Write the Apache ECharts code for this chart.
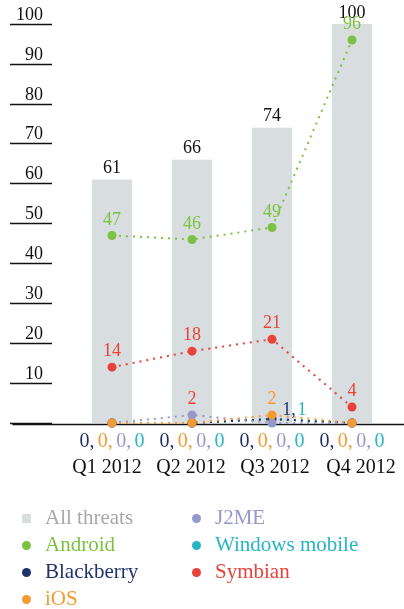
<!DOCTYPE html>
<html>
<head>
    <meta charset="utf-8">
    <title>ECharts</title>
    <script type="text/javascript" src="https://cdn.jsdelivr.net/npm/echarts@6/dist/echarts.min.js"></script>
    <style>
        body { margin: 0; background: #fff; }
    </style>
</head>
<body>
    <div id="main" style="width: 404px;height:609px;"></div>

    <script type="text/javascript">
        // data
        var quarters = ['Q1 2012', 'Q2 2012', 'Q3 2012', 'Q4 2012'];
        var allThreats = [61, 66, 74, 100];
        var android = [47, 46, 49, 96];
        var blackberry = [0, 0, 1, 0];
        var ios = [0, 0, 2, 0];
        var j2me = [0, 2, 0, 0];
        var windowsMobile = [0, 0, 1, 0];
        var symbian = [14, 18, 21, 4];
        // the row of zeros printed under every quarter: Blackberry, iOS, J2ME, Windows mobile
        var zeroRow = [[0, 0, 0, 0], [0, 0, 0, 0], [0, 0, 0, 0], [0, 0, 0, 0]];

        var font = 'Liberation Serif';
        var colors = {
            bar: '#d8dde0',
            all: '#a8a8a8',
            android: '#7cc242',
            blackberry: '#1f336a',
            ios: '#f39a33',
            j2me: '#9599c9',
            windows: '#27b5c3',
            symbian: '#e8423a'
        };

        var gridTop = 24, gridBottom = 186, gridLeft = 72, gridRight = 12;
        // the quarter names sit a little wider apart than the bars
        var quarterShift = [-5, -1, 3, 9];

        var myChart = echarts.init(document.getElementById('main'));

        function lineSeries(name, data, color, label) {
            return {
                name: name,
                type: 'line',
                data: data,
                symbol: 'circle',
                symbolSize: 9,
                itemStyle: { color: color },
                lineStyle: { color: color, width: 2, type: [2, 5] },
                label: Object.assign({
                    show: true,
                    position: 'top',
                    distance: 2,
                    fontFamily: font,
                    fontSize: 18,
                    color: color,
                    formatter: function (p) { return p.value === 0 ? '' : p.value; }
                }, label || {}),
                z: 3
            };
        }

        var richLabel = {
            b: { color: colors.blackberry, fontFamily: font, fontSize: 20 },
            i: { color: colors.ios, fontFamily: font, fontSize: 20 },
            j: { color: colors.j2me, fontFamily: font, fontSize: 20 },
            w: { color: colors.windows, fontFamily: font, fontSize: 20 }
        };
        quarterShift.forEach(function (s, k) {
            richLabel['q' + k] = {
                color: '#111', fontFamily: font, fontSize: 20,
                padding: [8, s < 0 ? -2 * s : 0, 0, s > 0 ? 2 * s : 0]
            };
        });

        var legendText = { fontFamily: font, fontSize: 21, lineHeight: 20, padding: [0, 0, 0, 9] };

        myChart.setOption({
            animation: false,
            grid: { top: gridTop, bottom: gridBottom, left: gridLeft, right: gridRight },
            xAxis: {
                type: 'category',
                data: quarters,
                axisLine: { show: false },
                axisTick: { show: false },
                axisLabel: {
                    interval: 0,
                    hideOverlap: false,
                    margin: 8,
                    lineHeight: 22,
                    rich: richLabel,
                    formatter: function (v, i) {
                        var z = zeroRow[i];
                        return '{b|' + z[0] + ',} {i|' + z[1] + ',} {j|' + z[2] + ',} {w|' + z[3] + '}\n{q' + i + '|' + v + '}';
                    }
                }
            },
            yAxis: {
                type: 'value',
                min: 0,
                max: 100,
                interval: 10,
                offset: 20,
                splitLine: { show: false },
                axisLine: { show: false },
                axisTick: { show: true, length: 42, lineStyle: { color: '#111', width: 1.3 } },
                axisLabel: {
                    margin: 9,
                    verticalAlign: 'bottom',
                    fontFamily: font,
                    fontSize: 18,
                    color: '#111',
                    formatter: function (v) { return v === 0 ? '' : v; }
                }
            },
            legend: [{
                orient: 'vertical',
                left: 22,
                top: 508,
                height: 140,
                padding: 0,
                itemWidth: 9,
                itemHeight: 9,
                itemGap: 6,
                textStyle: legendText,
                data: [
                    { name: 'All threats', icon: 'rect', textStyle: { color: colors.all } },
                    { name: 'Android', icon: 'circle', textStyle: { color: colors.android } },
                    { name: 'Blackberry', icon: 'circle', textStyle: { color: colors.blackberry } },
                    { name: 'iOS', icon: 'circle', textStyle: { color: colors.ios } }
                ]
            }, {
                orient: 'vertical',
                left: 192,
                top: 508,
                height: 140,
                padding: 0,
                itemWidth: 9,
                itemHeight: 9,
                itemGap: 6,
                textStyle: legendText,
                data: [
                    { name: 'J2ME', icon: 'circle', textStyle: { color: colors.j2me } },
                    { name: 'Windows mobile', icon: 'circle', textStyle: { color: colors.windows } },
                    { name: 'Symbian', icon: 'circle', textStyle: { color: colors.symbian } }
                ]
            }],
            graphic: [{
                type: 'line',
                left: 10,
                top: 609 - gridBottom - 1,
                shape: { x1: 0, y1: 0, x2: 394, y2: 0 },
                style: { stroke: '#111', lineWidth: 1.5 },
                z: 2
            }],
            series: [
                {
                    name: 'All threats',
                    type: 'bar',
                    data: allThreats,
                    barWidth: 40,
                    itemStyle: { color: colors.bar },
                    label: {
                        show: true,
                        position: 'top',
                        distance: 2,
                        fontFamily: font,
                        fontSize: 18,
                        color: '#111'
                    },
                    z: 1
                },
                lineSeries('Android', android, colors.android),
                lineSeries('Symbian', symbian, colors.symbian),
                lineSeries('Windows mobile', windowsMobile, colors.windows, { offset: [30, 7] }),
                lineSeries('Blackberry', blackberry, colors.blackberry, { offset: [17, 7], formatter: function (p) { return p.value === 0 ? '' : p.value + ','; } }),
                lineSeries('J2ME', j2me, colors.j2me, { color: colors.symbian }),
                lineSeries('iOS', ios, colors.ios)
            ]
        });
    </script>
</body>
</html>
